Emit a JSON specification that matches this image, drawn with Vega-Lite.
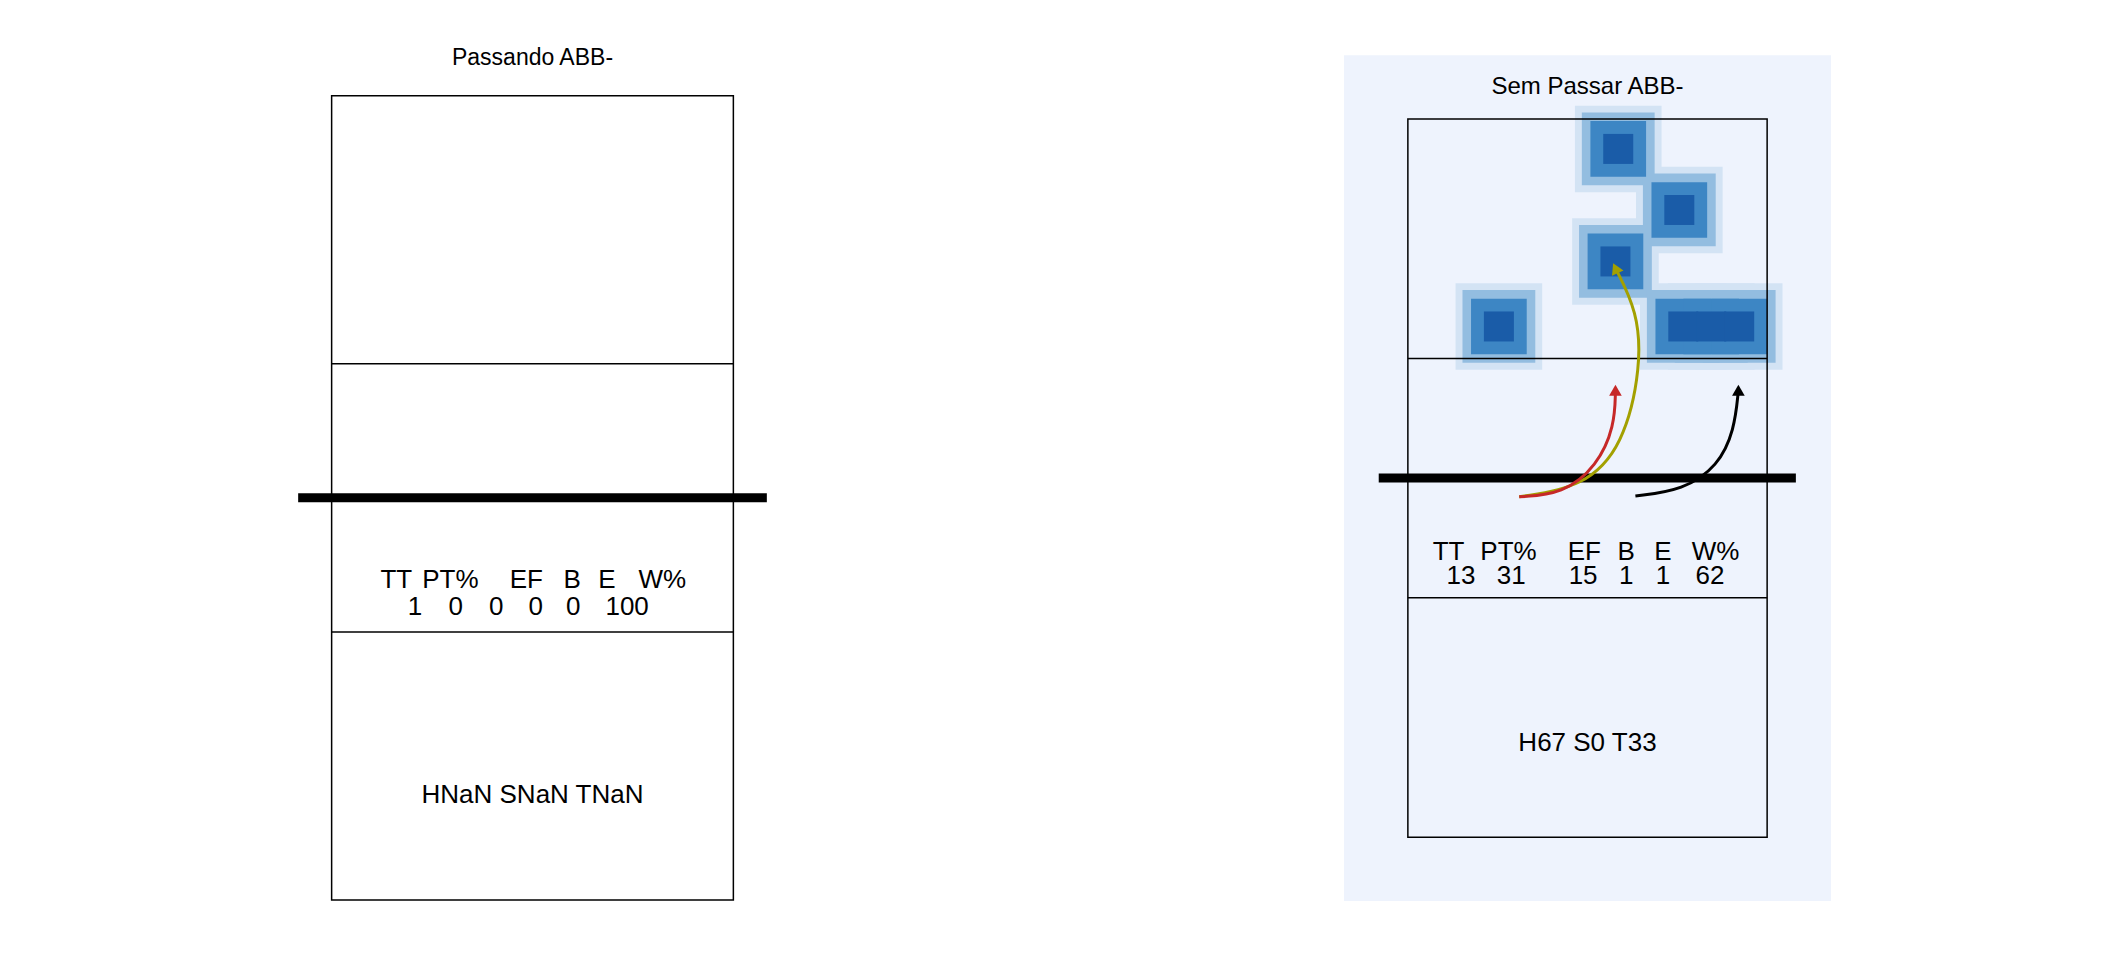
{
  "$schema": "https://vega.github.io/schema/vega-lite/v6.json",
  "padding": {"left": 287, "top": 42, "right": 0, "bottom": 0},
  "autosize": "pad",
  "background": "white",
  "config": {
    "axis": {"disable": true},
    "view": {"stroke": null},
    "text": {"font": "Liberation Sans"}
  },
  "spacing": 566,
  "datasets": {
    "lines": [
      {"p": "L", "kind": "court", "x1": 0, "x2": 9, "y1": 6, "y2": 6},
      {"p": "L", "kind": "court", "x1": 0, "x2": 9, "y1": 12, "y2": 12},
      {"p": "L", "kind": "net", "x1": -0.75, "x2": 9.75, "y1": 9, "y2": 9},
      {"p": "R", "kind": "court", "x1": 0, "x2": 9, "y1": 6, "y2": 6},
      {"p": "R", "kind": "court", "x1": 0, "x2": 9, "y1": 12, "y2": 12},
      {"p": "R", "kind": "net", "x1": -0.73, "x2": 9.72, "y1": 9, "y2": 9}
    ],
    "texts": [
      {"p": "L", "kind": "title", "x": 4.5, "y": -0.85, "t": "Passando ABB-"},
      {"p": "L", "kind": "stat", "x": 1.45, "y": 10.85, "t": "TT"},
      {"p": "L", "kind": "stat", "x": 2.66, "y": 10.85, "t": "PT%"},
      {"p": "L", "kind": "stat", "x": 4.36, "y": 10.85, "t": "EF"},
      {"p": "L", "kind": "stat", "x": 5.39, "y": 10.85, "t": "B"},
      {"p": "L", "kind": "stat", "x": 6.17, "y": 10.85, "t": "E"},
      {"p": "L", "kind": "stat", "x": 7.41, "y": 10.85, "t": "W%"},
      {"p": "L", "kind": "stat", "x": 1.87, "y": 11.45, "t": "1"},
      {"p": "L", "kind": "stat", "x": 2.78, "y": 11.45, "t": "0"},
      {"p": "L", "kind": "stat", "x": 3.69, "y": 11.45, "t": "0"},
      {"p": "L", "kind": "stat", "x": 4.57, "y": 11.45, "t": "0"},
      {"p": "L", "kind": "stat", "x": 5.41, "y": 11.45, "t": "0"},
      {"p": "L", "kind": "stat", "x": 6.62, "y": 11.45, "t": "100"},
      {"p": "L", "kind": "stat", "x": 4.5, "y": 15.66, "t": "HNaN SNaN TNaN"},
      {"p": "R", "kind": "title", "x": 4.5, "y": -0.8, "t": "Sem Passar ABB-"},
      {"p": "R", "kind": "stat", "x": 1.02, "y": 10.85, "t": "TT"},
      {"p": "R", "kind": "stat", "x": 2.52, "y": 10.85, "t": "PT%"},
      {"p": "R", "kind": "stat", "x": 4.42, "y": 10.85, "t": "EF"},
      {"p": "R", "kind": "stat", "x": 5.47, "y": 10.85, "t": "B"},
      {"p": "R", "kind": "stat", "x": 6.39, "y": 10.85, "t": "E"},
      {"p": "R", "kind": "stat", "x": 7.71, "y": 10.85, "t": "W%"},
      {"p": "R", "kind": "stat", "x": 1.33, "y": 11.45, "t": "13"},
      {"p": "R", "kind": "stat", "x": 2.59, "y": 11.45, "t": "31"},
      {"p": "R", "kind": "stat", "x": 4.39, "y": 11.45, "t": "15"},
      {"p": "R", "kind": "stat", "x": 5.47, "y": 11.45, "t": "1"},
      {"p": "R", "kind": "stat", "x": 6.39, "y": 11.45, "t": "1"},
      {"p": "R", "kind": "stat", "x": 7.57, "y": 11.45, "t": "62"},
      {"p": "R", "kind": "stat", "x": 4.5, "y": 15.65, "t": "H67 S0 T33"}
    ],
    "blobs": [
      {"x": 5.27, "y": 0.75, "lv": 1}, {"x": 6.8, "y": 2.28, "lv": 1}, {"x": 5.2, "y": 3.57, "lv": 1},
      {"x": 2.28, "y": 5.2, "lv": 1}, {"x": 6.9, "y": 5.2, "lv": 1}, {"x": 7.6, "y": 5.2, "lv": 1}, {"x": 8.3, "y": 5.2, "lv": 1},
      {"x": 5.27, "y": 0.75, "lv": 2}, {"x": 6.8, "y": 2.28, "lv": 2}, {"x": 5.2, "y": 3.57, "lv": 2},
      {"x": 2.28, "y": 5.2, "lv": 2}, {"x": 6.9, "y": 5.2, "lv": 2}, {"x": 7.6, "y": 5.2, "lv": 2}, {"x": 8.3, "y": 5.2, "lv": 2},
      {"x": 5.27, "y": 0.75, "lv": 3}, {"x": 6.8, "y": 2.28, "lv": 3}, {"x": 5.2, "y": 3.57, "lv": 3},
      {"x": 2.28, "y": 5.2, "lv": 3}, {"x": 6.9, "y": 5.2, "lv": 3}, {"x": 7.6, "y": 5.2, "lv": 3}, {"x": 8.3, "y": 5.2, "lv": 3},
      {"x": 5.27, "y": 0.75, "lv": 4}, {"x": 6.8, "y": 2.28, "lv": 4}, {"x": 5.2, "y": 3.57, "lv": 4},
      {"x": 2.28, "y": 5.2, "lv": 4}, {"x": 6.9, "y": 5.2, "lv": 4}, {"x": 7.6, "y": 5.2, "lv": 4}, {"x": 8.3, "y": 5.2, "lv": 4}
    ],
    "arrows": [
      {"s": "yellow", "o": 1, "x": 2.79, "y": 9.47}, {"s": "yellow", "o": 2, "x": 4.39, "y": 9.23},
      {"s": "yellow", "o": 3, "x": 5.4, "y": 8.2}, {"s": "yellow", "o": 4, "x": 5.85, "y": 6.18},
      {"s": "yellow", "o": 5, "x": 5.75, "y": 4.82}, {"s": "yellow", "o": 6, "x": 5.2, "y": 3.74},
      {"s": "red", "o": 1, "x": 2.79, "y": 9.47}, {"s": "red", "o": 2, "x": 3.88, "y": 9.4},
      {"s": "red", "o": 3, "x": 4.74, "y": 8.7}, {"s": "red", "o": 4, "x": 5.18, "y": 7.7},
      {"s": "red", "o": 5, "x": 5.2, "y": 6.8},
      {"s": "black", "o": 1, "x": 5.7, "y": 9.45}, {"s": "black", "o": 2, "x": 6.9, "y": 9.3},
      {"s": "black", "o": 3, "x": 7.77, "y": 8.7}, {"s": "black", "o": 4, "x": 8.18, "y": 7.8},
      {"s": "black", "o": 5, "x": 8.28, "y": 6.8}
    ],
    "heads": [
      {"s": "yellow", "x": 5.2, "y": 3.74, "a": -25},
      {"s": "red", "x": 5.2, "y": 6.8, "a": 0},
      {"s": "black", "x": 8.28, "y": 6.8, "a": 0}
    ],
    "court": [{"x1": 0, "x2": 9, "y1": 0, "y2": 18}],
    "bg": [{"x1": -1.6, "x2": 10.6, "y1": -1.6, "y2": 19.6}]
  },
  "hconcat": [
    {
      "width": 491,
      "height": 858,
      "layer": [
        {
          "data": {"name": "court"},
          "mark": {"type": "rect", "fill": null, "stroke": "black", "strokeWidth": 1.5},
          "encoding": {
            "x": {"field": "x1", "type": "quantitative", "scale": {"domain": [-1, 10], "nice": false, "zero": false}},
            "x2": {"field": "x2"},
            "y": {"field": "y1", "type": "quantitative", "scale": {"domain": [-1.2, 18], "reverse": true, "nice": false, "zero": false}},
            "y2": {"field": "y2"}
          }
        },
        {
          "data": {"name": "lines"},
          "transform": [{"filter": "datum.p == 'L'"}],
          "mark": {"type": "rule", "color": "black"},
          "encoding": {
            "x": {"field": "x1", "type": "quantitative"},
            "x2": {"field": "x2"},
            "y": {"field": "y1", "type": "quantitative"},
            "y2": {"field": "y2"},
            "strokeWidth": {"field": "kind", "type": "nominal", "scale": {"domain": ["court", "net"], "range": [1.5, 9]}, "legend": null}
          }
        },
        {
          "data": {"name": "texts"},
          "transform": [{"filter": "datum.p == 'L'"}],
          "mark": {"type": "text", "baseline": "middle", "color": "black"},
          "encoding": {
            "x": {"field": "x", "type": "quantitative"},
            "y": {"field": "y", "type": "quantitative"},
            "text": {"field": "t"},
            "size": {"field": "kind", "type": "nominal", "scale": {"domain": ["title", "stat"], "range": [23, 26]}, "legend": null}
          }
        }
      ]
    },
    {
      "width": 487,
      "height": 859,
      "resolve": {"scale": {"color": "independent", "size": "independent"}},
      "layer": [
        {
          "data": {"name": "bg"},
          "mark": {"type": "rect", "fill": "#eef3fd", "stroke": null},
          "encoding": {
            "x": {"field": "x1", "type": "quantitative", "scale": {"domain": [-1.6, 10.6], "nice": false, "zero": false}},
            "x2": {"field": "x2"},
            "y": {"field": "y1", "type": "quantitative", "scale": {"domain": [-1.93, 19.6], "reverse": true, "nice": false, "zero": false}},
            "y2": {"field": "y2"}
          }
        },
        {
          "data": {"name": "blobs"},
          "mark": {"type": "point", "shape": "square", "filled": true, "opacity": 1, "strokeWidth": 0},
          "encoding": {
            "x": {"field": "x", "type": "quantitative"},
            "y": {"field": "y", "type": "quantitative"},
            "color": {"field": "lv", "type": "ordinal", "scale": {"domain": [1, 2, 3, 4], "range": ["#d3e3f4", "#93bde0", "#3d86c4", "#1a5ca8"]}, "legend": null},
            "size": {"field": "lv", "type": "quantitative", "scale": {"domain": [1, 4], "range": [7500, 900], "zero": false}, "legend": null}
          }
        },
        {
          "data": {"name": "court"},
          "mark": {"type": "rect", "fill": null, "stroke": "black", "strokeWidth": 1.5},
          "encoding": {
            "x": {"field": "x1", "type": "quantitative"},
            "x2": {"field": "x2"},
            "y": {"field": "y1", "type": "quantitative"},
            "y2": {"field": "y2"}
          }
        },
        {
          "data": {"name": "lines"},
          "transform": [{"filter": "datum.p == 'R'"}],
          "mark": {"type": "rule", "color": "black"},
          "encoding": {
            "x": {"field": "x1", "type": "quantitative"},
            "x2": {"field": "x2"},
            "y": {"field": "y1", "type": "quantitative"},
            "y2": {"field": "y2"},
            "strokeWidth": {"field": "kind", "type": "nominal", "scale": {"domain": ["court", "net"], "range": [1.5, 9]}, "legend": null}
          }
        },
        {
          "data": {"name": "arrows"},
          "mark": {"type": "line", "interpolate": "basis", "strokeWidth": 3},
          "encoding": {
            "x": {"field": "x", "type": "quantitative"},
            "y": {"field": "y", "type": "quantitative"},
            "order": {"field": "o"},
            "color": {"field": "s", "type": "nominal", "scale": {"domain": ["yellow", "red", "black"], "range": ["#a3a000", "#c62828", "#000000"]}, "legend": null}
          }
        },
        {
          "data": {"name": "heads"},
          "mark": {"type": "point", "shape": "triangle-up", "filled": true, "opacity": 1, "size": 160},
          "encoding": {
            "x": {"field": "x", "type": "quantitative"},
            "y": {"field": "y", "type": "quantitative"},
            "angle": {"field": "a", "type": "quantitative", "scale": null},
            "color": {"field": "s", "type": "nominal", "scale": {"domain": ["yellow", "red", "black"], "range": ["#a3a000", "#c62828", "#000000"]}, "legend": null}
          }
        },
        {
          "data": {"name": "texts"},
          "transform": [{"filter": "datum.p == 'R'"}],
          "mark": {"type": "text", "baseline": "middle", "color": "black"},
          "encoding": {
            "x": {"field": "x", "type": "quantitative"},
            "y": {"field": "y", "type": "quantitative"},
            "text": {"field": "t"},
            "size": {"field": "kind", "type": "nominal", "scale": {"domain": ["title", "stat"], "range": [24, 26]}, "legend": null}
          }
        }
      ]
    }
  ]
}
